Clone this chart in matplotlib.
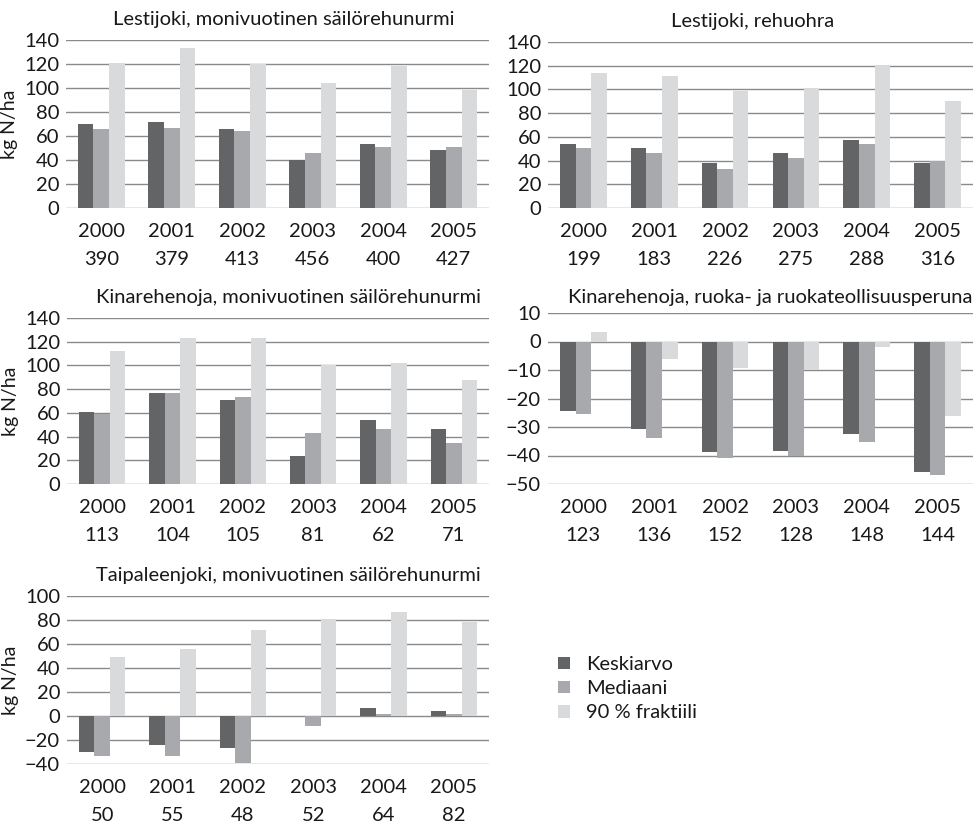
import numpy as np
import matplotlib.pyplot as plt
from matplotlib.patches import Patch

plt.rcParams['font.family'] = ['Lato', 'DejaVu Sans']

vuodet = ['2000', '2001', '2002', '2003', '2004', '2005']
sarjat = ['Keskiarvo', 'Mediaani', '90 % fraktiili']
varit = ['#636466', '#a7a9ac', '#d9dadc']

# Lestijoki, monivuotinen säilörehunurmi
n1 = ['390', '379', '413', '456', '400', '427']
ka1 = [70, 72, 66, 40, 53, 48]
med1 = [66, 67, 64, 46, 51, 51]
f90_1 = [121, 133, 120, 104, 118, 98]

# Lestijoki, rehuohra
n2 = ['199', '183', '226', '275', '288', '316']
ka2 = [54, 51, 38, 46, 57, 38]
med2 = [51, 46, 33, 42, 54, 40]
f90_2 = [114, 111, 99, 101, 121, 90]

# Kinarehenoja, monivuotinen säilörehunurmi
n3 = ['113', '104', '105', '81', '62', '71']
ka3 = [61, 77, 71, 24, 54, 46]
med3 = [59, 77, 73, 43, 46, 35]
f90_3 = [112, 123, 123, 100, 102, 88]

# Kinarehenoja, ruoka- ja ruokateollisuusperuna
n4 = ['123', '136', '152', '128', '148', '144']
ka4 = [-24.3, -30.7, -38.8, -38.3, -32.3, -45.8]
med4 = [-25.3, -33.8, -41.0, -40.1, -35.1, -46.8]
f90_4 = [3.5, -6.3, -9.2, -10.0, -1.8, -26.0]

# Taipaleenjoki, monivuotinen säilörehunurmi
n5 = ['50', '55', '48', '52', '64', '82']
ka5 = [-30, -24, -27, 0, 7, 4]
med5 = [-33, -33, -39, -8, 2, 2]
f90_5 = [49, 56, 72, 81, 87, 78]

W, H = 976, 825
fs = 14.5
tekstivari = '#1a1718'
fig = plt.figure(figsize=(W / 100, H / 100), dpi=100)


def px_axes(left, top, right, bottom):
    return fig.add_axes([left / W, 1 - bottom / H, (right - left) / W, (bottom - top) / H])


def paneeli(rect, otsikko, otsikko_xy, n, ka, med, f90, ylim, yticks, ylabel=True):
    ax = px_axes(*rect)
    x = np.arange(len(vuodet))
    w = 0.22
    for i, (arvot, vari) in enumerate(zip([ka, med, f90], varit)):
        ax.bar(x + (i - 1) * w, arvot, w, color=vari, zorder=2, label=sarjat[i])
    ax.set_xlim(-0.5, 5.5)
    ax.set_ylim(*ylim)
    ax.set_yticks(yticks)
    ax.yaxis.grid(True, color='#8a8a8a', linewidth=1.0, zorder=1)
    for s in ax.spines.values():
        s.set_visible(False)
    ax.set_xticks(x)
    ax.set_xticklabels([v + '\n' + k for v, k in zip(vuodet, n)], linespacing=1.75)
    ax.tick_params(axis='both', length=0, labelsize=fs, colors=tekstivari)
    ax.tick_params(axis='x', pad=11)
    ax.tick_params(axis='y', pad=5)
    if ylabel:
        ax.set_ylabel('kg N/ha', fontsize=fs - 0.5, color=tekstivari, labelpad=4)
    fig.text(otsikko_xy[0] / W, 1 - otsikko_xy[1] / H, otsikko, ha='center', va='center',
             fontsize=fs, color=tekstivari)
    return ax


paneeli((66, 40, 489, 208), 'Lestijoki, monivuotinen säilörehunurmi', (284, 20),
        n1, ka1, med1, f90_1, (0, 140), range(0, 141, 20))
paneeli((548, 42, 973, 208), 'Lestijoki, rehuohra', (753, 22),
        n2, ka2, med2, f90_2, (0, 140), range(0, 141, 20), ylabel=False)
paneeli((67, 318, 489, 484), 'Kinarehenoja, monivuotinen säilörehunurmi', (288, 298),
        n3, ka3, med3, f90_3, (0, 140), range(0, 141, 20))
paneeli((548, 313, 973, 484), 'Kinarehenoja, ruoka- ja ruokateollisuusperuna', (770, 298),
        n4, ka4, med4, f90_4, (-50, 10), range(-50, 11, 10), ylabel=False)
paneeli((67, 596, 489, 764), 'Taipaleenjoki, monivuotinen säilörehunurmi', (288, 575),
        n5, ka5, med5, f90_5, (-40, 100), range(-40, 101, 20))

kahvat = [Patch(facecolor=c, edgecolor='none') for c in varit]
fig.legend(kahvat, sarjat, loc='upper left', bbox_to_anchor=(540 / W, 1 - 638 / H),
           frameon=False, fontsize=fs, handlelength=0.6, handleheight=0.6,
           handletextpad=0.8, labelspacing=0.35, labelcolor=tekstivari)

fig.savefig('out.png', dpi=100, facecolor='white')
